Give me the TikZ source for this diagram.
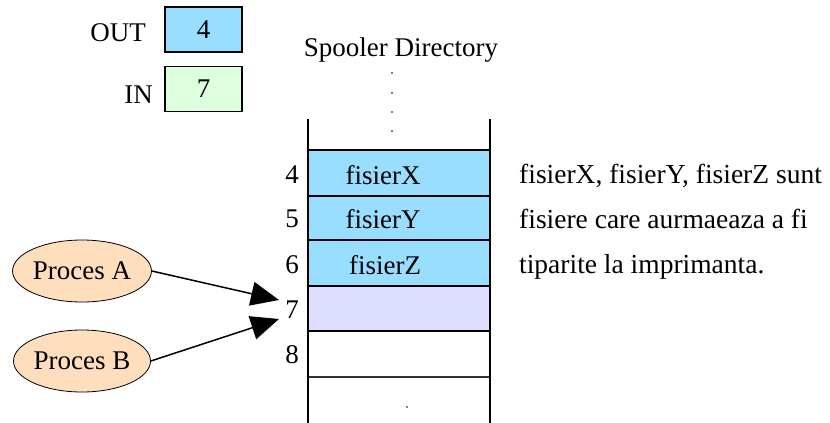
\documentclass[tikz,border=0pt]{standalone}
\usepackage{fontspec}
\setmainfont{Liberation Serif}
\usetikzlibrary{shapes.geometric,arrows.meta}
\definecolor{outblue}{RGB}{153,221,255}
\definecolor{ingreen}{RGB}{221,255,221}
\definecolor{slotlav}{RGB}{221,221,255}
\definecolor{procpeach}{RGB}{255,222,190}
\tikzset{
  txt/.style={font=\fontsize{27}{32}\selectfont, inner sep=0pt},
  regbox/.style={draw=black, line width=1.6pt, minimum width=77pt, minimum height=45pt, inner sep=0pt, font=\fontsize{27}{32}\selectfont},
  proc/.style={ellipse, draw=black, line width=0.8pt, fill=procpeach, minimum width=137pt, minimum height=62pt, inner sep=0pt, font=\fontsize{27}{32}\selectfont},
  cellfill/.style={draw=black, line width=1.6pt},
  rail/.style={line width=1.8pt},
  sep/.style={line width=1.2pt, draw=black!80},
  dotmark/.style={circle, fill=black, inner sep=0pt, minimum size=1.6pt},
  ptr/.style={line width=1.5pt, -{Triangle[length=28pt, width=24pt]}}
}
\begin{document}
\begin{tikzpicture}[x=1pt, y=-1pt]
\useasboundingbox (0,0) rectangle (830,423);

% OUT / IN registers
\node[regbox, fill=outblue] (outbox) at (203.5,29.5) {4};
\node[regbox, fill=ingreen] (inbox) at (203.5,89) {7};
\node[txt, anchor=east] (outlbl) at (146,33) {OUT};
\node[txt, anchor=east] (inlbl) at (153,95) {IN};

% directory title and ellipsis dots
\node[txt] (title) at (401,50) {Spooler Directory};
\foreach \yy [count=\i] in {73,93,112,131}
  \node[dotmark] (dot\i) at (392,\yy) {};

% slot contents
\path[cellfill, fill=outblue] (308,150) rectangle (490,196);
\path[cellfill, fill=outblue] (308,196) rectangle (490,240);
\path[cellfill, fill=outblue] (308,240) rectangle (490,286);
\path[cellfill, fill=slotlav] (308,286) rectangle (490,331);
\draw[sep] (308,377) -- (490,377);

% side rails of the directory
\draw[rail] (308,119) -- (308,423);
\draw[rail] (490,119) -- (490,423);
\node[dotmark] (dotbot) at (407,407) {};

% file names in slots
\node[txt] (fx) at (383,175) {fisierX};
\node[txt] (fy) at (383,219) {fisierY};
\node[txt] (fz) at (385,265) {fisierZ};

% slot indices
\node[txt] (i4) at (292,175) {4};
\node[txt] (i5) at (292,219) {5};
\node[txt] (i6) at (292,265) {6};
\node[txt] (i7) at (292,310) {7};
\node[txt] (i8) at (292,355) {8};

% explanation (anchored on the baseline of its last line)
\node[txt, anchor=base west, align=left, font=\fontsize{27.5}{45}\selectfont] (note) at (519,273)
  {fisierX, fisierY, fisierZ sunt\\fisiere care aurmaeaza a fi\\tiparite la imprimanta.};

% processes
\node[proc] (pa) at (82,271) {Proces A};
\node[proc] (pb) at (82,361) {Proces B};
\coordinate (tipa) at (279,300);
\coordinate (tipb) at (279,319);
\draw[ptr] (pa.east) -- (tipa);
\draw[ptr] (pb.east) -- (tipb);
\end{tikzpicture}
\end{document}
